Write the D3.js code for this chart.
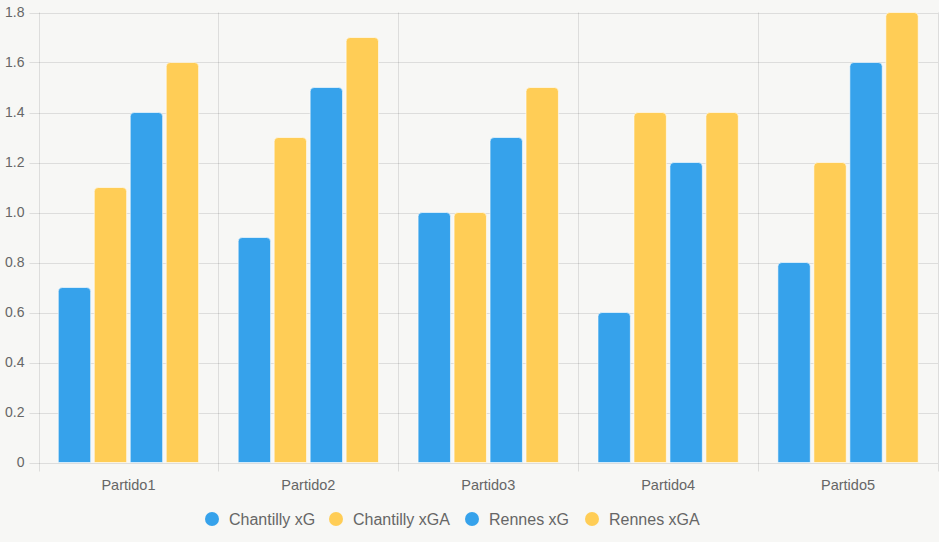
<!DOCTYPE html>
<html>
<head>
<meta charset="utf-8">
<title>xG por partido</title>
<style>
  body { margin: 0; background: #f7f7f5; }
  text { font-family: "Liberation Sans", Arial, sans-serif; fill: #666; }
</style>
</head>
<body>
<script src="https://cdn.jsdelivr.net/npm/d3@7"></script>
<svg id="chart" width="939" height="542"></svg>
<script>
// data
var partidos = ['Partido1', 'Partido2', 'Partido3', 'Partido4', 'Partido5'];
var seriesNames = ['Chantilly xG', 'Chantilly xGA', 'Rennes xG', 'Rennes xGA'];
var seriesColors = ['#36a2eb', '#ffcd56', '#36a2eb', '#ffcd56'];
var chantillyXG  = [0.7, 0.9, 1.0, 0.6, 0.8];
var chantillyXGA = [1.1, 1.3, 1.0, 1.4, 1.2];
var rennesXG     = [1.4, 1.5, 1.3, 1.2, 1.6];
var rennesXGA    = [1.6, 1.7, 1.5, 1.4, 1.8];
var yTicks = [0, 0.2, 0.4, 0.6, 0.8, 1.0, 1.2, 1.4, 1.6, 1.8];

var allSeries = [chantillyXG, chantillyXGA, rennesXG, rennesXGA];

var svg = d3.select('#chart');
// note: "top" is taken by window.top, so plot edges get their own names
var plotL = 38.5, plotR = 938, plotT = 12.5, plotB = 462.5;

var x = d3.scaleBand().domain(partidos).range([plotL, plotR]).paddingInner(0).paddingOuter(0);
var y = d3.scaleLinear().domain([0, 1.8]).range([plotB, plotT]);
// inner scale: 80% of category, bars 90% of slot
var xs = d3.scaleBand().domain(d3.range(seriesNames.length))
  .range([x.bandwidth() * 0.1, x.bandwidth() * 0.9]);
var barW = xs.bandwidth() * 0.9;

//grid
var g = svg.append('g');
g.selectAll('.hgrid').data(yTicks).enter().append('line')
  .attr('x1', plotL - 9).attr('x2', plotR)
  .attr('y1', function(d){ return Math.round(y(d)) + 0.5; })
  .attr('y2', function(d){ return Math.round(y(d)) + 0.5; })
  .attr('stroke', 'rgba(0,0,0,0.1)');

var vx = partidos.map(function(p){ return x(p); }).concat([plotR]);
g.selectAll('.vgrid').data(vx).enter().append('line')
  .attr('x1', function(d){ return Math.round(d) + 0.5; })
  .attr('x2', function(d){ return Math.round(d) + 0.5; })
  .attr('y1', plotT).attr('y2', plotB + 9)
  .attr('stroke', 'rgba(0,0,0,0.1)');

// axis labels
g.selectAll('.ylab').data(yTicks).enter().append('text')
  .attr('x', plotL - 14).attr('y', function(d){ return y(d); })
  .attr('dy', '0.35em').attr('text-anchor', 'end')
  .style('font-size', '14px')
  .text(function(d){ return d === 0 ? '0' : d3.format('.1f')(d); });

g.selectAll('.xlab').data(partidos).enter().append('text')
  .attr('x', function(d){ return x(d) + x.bandwidth() / 2; })
  .attr('y', 490).attr('text-anchor', 'middle')
  .style('font-size', '14.5px')
  .text(function(d){ return d; });

// bars with rounded tops
function barPath(x0, w, y0, y1, r) {
  var h = y1 - y0;
  r = Math.min(r, h, w / 2);
  return 'M' + x0 + ',' + y1 +
    'L' + x0 + ',' + (y0 + r) +
    'Q' + x0 + ',' + y0 + ' ' + (x0 + r) + ',' + y0 +
    'L' + (x0 + w - r) + ',' + y0 +
    'Q' + (x0 + w) + ',' + y0 + ' ' + (x0 + w) + ',' + (y0 + r) +
    'L' + (x0 + w) + ',' + y1 + 'Z';
}

allSeries.forEach(function(vals, si){
  svg.append('g').selectAll('path').data(vals).enter().append('path')
    .attr('d', function(d, i){
      var x0 = x(partidos[i]) + xs(si) + (xs.bandwidth() - barW) / 2;
      return barPath(x0, barW, y(d), y(0), 4);
    })
    .attr('fill', seriesColors[si])
    .attr('stroke', '#ffffff')
    .attr('stroke-opacity', 0.6)
    .attr('stroke-width', 1);
});

// legend
var legendX = [212, 336, 472, 592];
var lg = svg.append('g');
seriesNames.forEach(function(name, i){
  lg.append('circle').attr('cx', legendX[i]).attr('cy', 519).attr('r', 7)
    .attr('fill', seriesColors[i]);
  lg.append('text').attr('x', legendX[i] + 17).attr('y', 519).attr('dy', '0.35em')
    .style('font-size', '16px').text(name);
});
</script>
</body>
</html>
